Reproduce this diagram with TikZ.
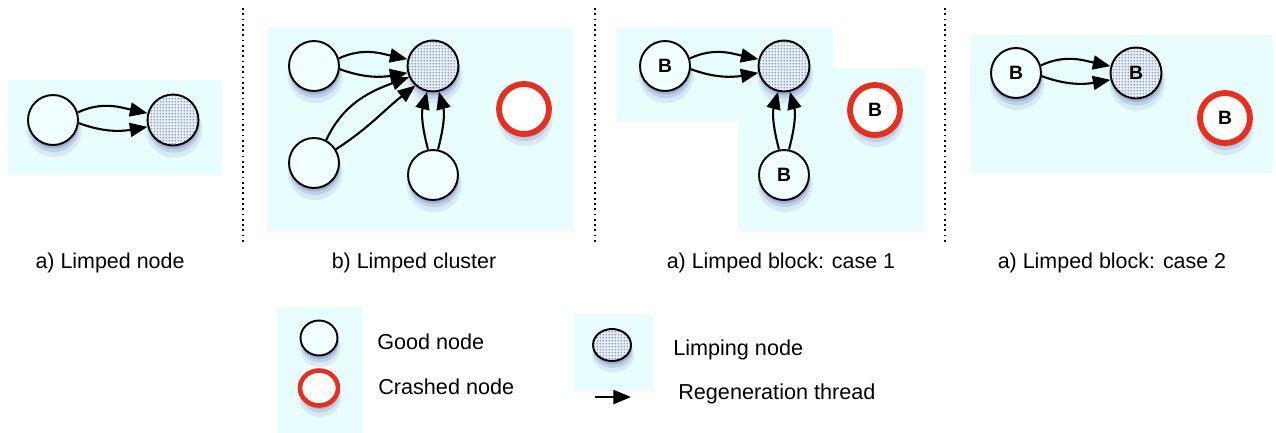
\documentclass[tikz,border=0pt]{standalone}
\usepackage{fontspec}
\setmainfont{Liberation Sans}
\usetikzlibrary{arrows.meta,shadows,patterns,patterns.meta,shapes.geometric}

\definecolor{panelcyan}{RGB}{232,254,254}
\definecolor{nodecyan}{RGB}{242,255,255}
\definecolor{limpblue}{RGB}{226,236,250}
\definecolor{crashred}{RGB}{234,45,28}
\definecolor{shadowblue}{RGB}{80,90,170}

\tikzdeclarepattern{
  name=finedots,
  type=uncolored,
  bounding box={(0pt,0pt) and (1.75pt,1.75pt)},
  tile size={(1.75pt,1.75pt)},
  code={\pgfpathcircle{\pgfpoint{0.875pt}{0.875pt}}{0.42pt}\pgfusepath{fill}}
}

\tikzset{
  soft shadow/.style={
    drop shadow={shadow xshift=0.6pt,shadow yshift=-5pt,shadow scale=1.1,fill=shadowblue,opacity=0.12},
    drop shadow={shadow xshift=0.5pt,shadow yshift=-3.5pt,shadow scale=1.03,fill=shadowblue,opacity=0.18},
    drop shadow={shadow xshift=0.4pt,shadow yshift=-2pt,fill=shadowblue,opacity=0.25}},
  goodnode/.style={circle,draw,line width=1.1pt,soft shadow,fill=nodecyan,
    minimum size=1cm,inner sep=0pt,font=\fontsize{11}{12}\selectfont\bfseries},
  limpnode/.style={circle,draw,line width=1.1pt,soft shadow,preaction={fill=limpblue},
    pattern=finedots,pattern color=black!70,
    minimum size=1.02cm,inner sep=0pt,font=\fontsize{11}{12}\selectfont\bfseries},
  crashnode/.style={circle,draw=crashred,line width=3.3pt,soft shadow,fill=white,
    minimum size=1cm,inner sep=0pt,font=\fontsize{11}{12}\selectfont\bfseries},
  regen/.style={line width=1.2pt,-{Triangle[length=10pt,width=8pt]}},
  sep/.style={dotted,line width=1pt},
  lbl/.style={font=\fontsize{12.2}{14}\selectfont},
  legtext/.style={font=\fontsize{12.3}{14}\selectfont,anchor=west,inner sep=0pt}
}

\begin{document}
\begin{tikzpicture}[x=0.02cm,y=0.02cm]
  \useasboundingbox (0,0) rectangle (1276,-433);

  % panel backgrounds
  \fill[panelcyan] (8,-80) rectangle (222,-175);
  \fill[panelcyan] (267,-27) rectangle (573,-231);
  \fill[panelcyan] (617,-27) -- (833,-27) -- (833,-68) -- (925,-68) -- (925,-231)
    -- (738,-231) -- (738,-122) -- (617,-122) -- cycle;
  \fill[panelcyan] (970,-35) rectangle (1273,-173);
  \fill[panelcyan] (277,-307) rectangle (362,-433);
  \fill[panelcyan] (574,-314) rectangle (653,-391);

  % separators
  \draw[sep] (243,-8) -- (243,-243);
  \draw[sep] (595,-8) -- (595,-243);
  \draw[sep] (945,-8) -- (945,-243);

  % a) limped node
  \node[goodnode] (ag) at (53,-120) {};
  \node[limpnode] (al) at (173,-120) {};
  \draw[regen] (ag.17) to[out=25,in=168] (al.165);
  \draw[regen] (ag.-7) to[out=-20,in=190] (al.195);
  \node[lbl] (alab) at (110,-263) {a) Limped node};

  % b) limped cluster
  \node[goodnode] (btl) at (314,-66) {};
  \node[limpnode] (bl) at (433,-66) {};
  \node[crashnode] (bc) at (524,-109) {};
  \node[goodnode] (bbl) at (314,-163) {};
  \node[goodnode] (bbr) at (433,-175) {};
  \draw[regen] (btl.17) to[out=25,in=168] (bl.165);
  \draw[regen] (btl.-7) to[out=-20,in=190] (bl.195);
  \draw[regen] (bbl.62) to[out=65,in=200] (bl.205);
  \draw[regen] (bbl.32) to[out=33,in=218] (bl.228);
  \draw[regen] (bbr.101) to[out=105,in=255] (bl.257);
  \draw[regen] (bbr.79) to[out=75,in=285] (bl.283);
  \node[lbl] (blab) at (414,-263) {b) Limped cluster};

  % c) limped block, case 1
  \node[goodnode] (ctl) at (665,-66) {B};
  \node[limpnode] (cl) at (784,-66) {};
  \node[crashnode] (cc) at (875,-110) {B};
  \node[goodnode] (cb) at (784,-175) {B};
  \draw[regen] (ctl.17) to[out=25,in=168] (cl.165);
  \draw[regen] (ctl.-7) to[out=-20,in=190] (cl.195);
  \draw[regen] (cb.101) to[out=105,in=255] (cl.257);
  \draw[regen] (cb.79) to[out=75,in=285] (cl.283);
  \node[lbl] (clab) at (781,-263) {a) Limped block: case 1};

  % d) limped block, case 2
  \node[goodnode] (dg) at (1016,-73) {B};
  \node[limpnode] (dl) at (1136,-73) {B};
  \node[crashnode] (dc) at (1225,-118) {B};
  \draw[regen] (dg.17) to[out=25,in=168] (dl.165);
  \draw[regen] (dg.-7) to[out=-20,in=190] (dl.195);
  \node[lbl] (dlab) at (1112,-263) {a) Limped block: case 2};

  % legend
  \node[goodnode,ellipse,minimum width=0.74cm,minimum height=0.7cm] (lg) at (319,-338) {};
  \node[crashnode,ellipse,line width=2.6pt,minimum width=0.76cm,minimum height=0.7cm] (lc) at (319,-388) {};
  \node[limpnode,ellipse,minimum width=0.76cm,minimum height=0.64cm] (ll) at (612,-345) {};
  \coordinate (ra) at (595,-397);
  \coordinate (rb) at (631,-397);
  \draw[regen] (ra) -- (rb);
  \node[legtext] (tg) at (377,-342) {Good node};
  \node[legtext] (tc) at (378,-387) {Crashed node};
  \node[legtext] (tl) at (673,-350) {Limping node};
  \node[legtext] (tr) at (678,-394) {Regeneration thread};
\end{tikzpicture}
\end{document}
